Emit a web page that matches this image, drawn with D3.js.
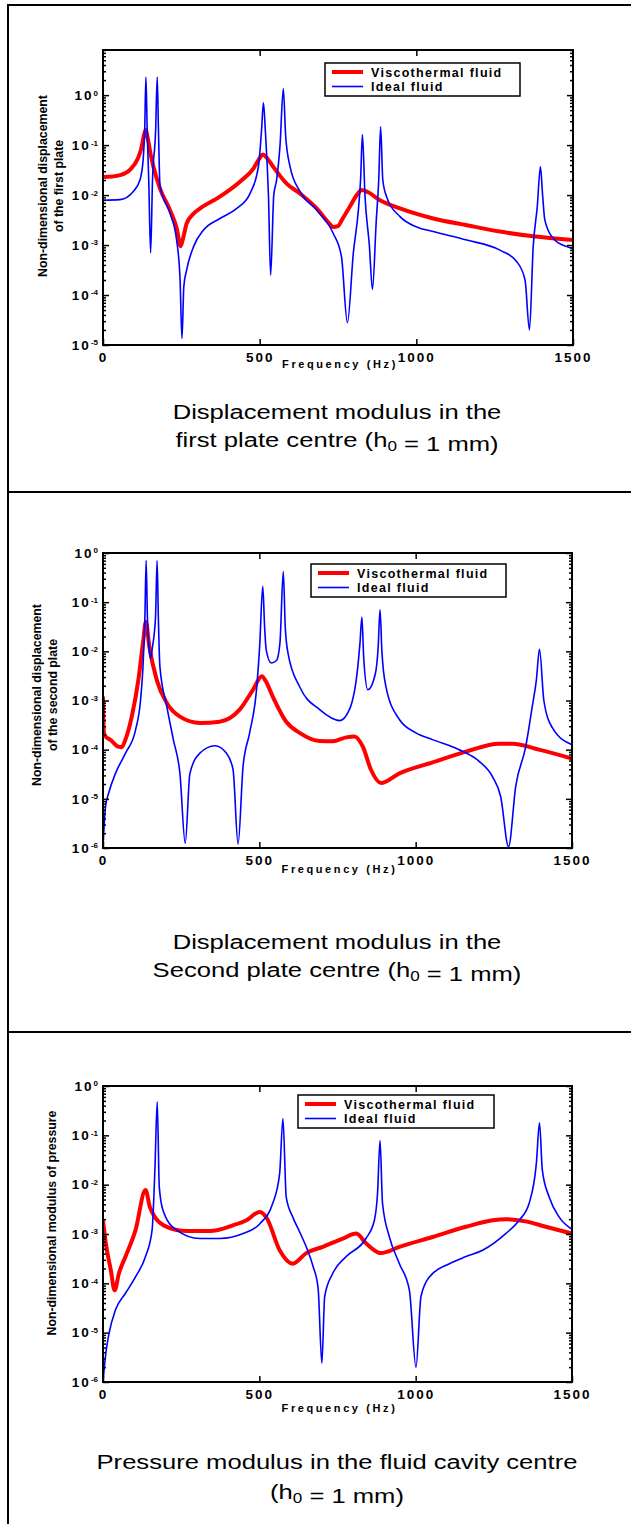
<!DOCTYPE html>
<html>
<head>
<meta charset="utf-8">
<script src="https://cdn.jsdelivr.net/npm/d3@7"></script>
<style>
  body { margin: 0; background: #fff; }
  svg { display: block; }
  svg text { font-family: "Liberation Sans", Arial, sans-serif; }
</style>
</head>
<body>
<div id="chart"></div>
<script>
// ---- data (frequency Hz, non-dimensional value) ----
const xTicks = [0, 500, 1000, 1500];
const legendLabels = ["Viscothermal fluid", "Ideal fluid"];

const p1Decades = [-5, -4, -3, -2, -1, 0];
const p2Decades = [-6, -5, -4, -3, -2, -1, 0];
const p3Decades = [-6, -5, -4, -3, -2, -1, 0];

const p1YTitle = ["Non-dimensional displacement", "of the first plate"];
const p2YTitle = ["Non-dimensional displacement", "of the second plate"];
const p3YTitle = ["Non-dimensional modulus of pressure"];

const p1Caption = ["Displacement modulus in the", "first plate centre (h_0 = 1 mm)"];
const p2Caption = ["Displacement modulus in the", "Second plate centre (h_0 = 1 mm)"];
const p3Caption = ["Pressure modulus in the fluid cavity centre", "(h_0 = 1 mm)"];

const p1Visco = [
  [0, 2.3e-2], [30, 2.35e-2], [54, 2.5e-2], [86, 3.2e-2], [110, 5.2e-2], [122, 8.5e-2],
  [130, 1.5e-1], [136, 2.0e-1], [144, 1.25e-1], [152, 6.5e-2], [161, 3.7e-2], [182, 1.35e-2],
  [214, 5e-3], [235, 2.2e-3], [248, 9.5e-4], [256, 1.4e-3], [267, 2.7e-3], [290, 4.3e-3],
  [310, 5.4e-3], [373, 9.3e-3], [437, 1.85e-2], [480, 3.4e-2], [500, 5.5e-2], [510, 6.5e-2],
  [520, 5.8e-2], [543, 3.7e-2], [586, 1.7e-2], [629, 1.07e-2], [682, 5.4e-3], [720, 2.8e-3],
  [735, 2.3e-3], [750, 2.4e-3], [765, 3.4e-3], [788, 5.9e-3], [810, 1.0e-2], [826, 1.26e-2],
  [845, 1.15e-2], [884, 7.9e-3], [948, 5.4e-3], [1054, 3.4e-3], [1161, 2.5e-3], [1267, 1.86e-3],
  [1373, 1.5e-3], [1500, 1.26e-3]
];
const p1Ideal = [
  [0, 7.9e-3], [54, 8.1e-3], [96, 1.17e-2], [118, 2e-2], [128, 5e-2], [133, 2e-1], [137, 2.3],
  [141, 2e-1], [146, 2e-2], [152, 7e-4], [158, 2e-2], [168, 2e-1], [173, 2.3], [177, 2e-1],
  [182, 1.5e-2], [214, 4.3e-3], [235, 1.26e-3], [246, 2e-4], [252, 1.35e-5], [258, 1.5e-4],
  [267, 3.2e-4], [289, 9.3e-4], [321, 2e-3], [373, 3.4e-3], [427, 5.4e-3], [469, 1.07e-2],
  [496, 3.7e-2], [506, 2e-1], [512, 0.7], [518, 2e-1], [528, 1e-2], [535, 2.5e-4], [545, 1e-2],
  [554, 2e-2], [565, 1e-1], [575.5, 1.36], [583, 1.5e-1], [597, 3.7e-2], [629, 1.17e-2],
  [682, 5e-3], [735, 1.7e-3], [761, 5.9e-4], [780, 2.8e-5], [799, 7e-4], [815, 5e-3],
  [822, 2e-2], [828, 1.63e-1], [836, 1e-2], [850, 1e-3], [860, 1.3e-4], [872, 3e-3], [880, 2e-2],
  [886, 2.33e-1], [893, 2e-2], [905, 9.3e-3], [948, 3.7e-3], [1001, 2.3e-3], [1054, 1.86e-3],
  [1161, 1.26e-3], [1267, 7.9e-4], [1320, 4.7e-4], [1347, 2e-4], [1361, 2e-5], [1373, 9.3e-4],
  [1386, 5.9e-3], [1396, 3.7e-2], [1403, 1e-2], [1410, 3.2e-3], [1437, 1.35e-3], [1480, 9.3e-4],
  [1500, 8.5e-4]
];

const p2Visco = [
  [0, 1.2e-3], [3, 2.2e-4], [10, 1.8e-4], [23, 1.6e-4], [49, 1.15e-4], [60, 1.12e-4], [70, 1.5e-4],
  [92, 4.7e-4], [113, 2.6e-3], [129, 1.7e-2], [137, 4e-2], [148, 1.26e-2], [172, 2.6e-3],
  [204, 8.9e-4], [246, 4.7e-4], [310, 3.5e-4], [373, 3.7e-4], [437, 6.5e-4], [480, 1.66e-3],
  [508, 3.1e-3], [520, 2.5e-3], [543, 1.2e-3], [586, 3.7e-4], [629, 2.2e-4], [693, 1.5e-4],
  [735, 1.48e-4], [778, 1.78e-4], [804, 1.86e-4], [831, 1.15e-4], [857, 3.9e-5], [889, 2.1e-5],
  [948, 3.3e-5], [1054, 5.5e-5], [1161, 9.1e-5], [1267, 1.32e-4], [1310, 1.32e-4], [1394, 1e-4],
  [1500, 6.6e-5]
];
const p2Ideal = [
  [0, 1e-6], [8, 6.9e-6], [18, 1.3e-5], [40, 3.3e-5], [72, 8.5e-5], [104, 2.5e-4], [120, 1e-3],
  [128, 5e-3], [134, 5e-2], [138, 0.7], [142, 5e-2], [147, 1.2e-2], [152, 7.2e-3], [158, 1.2e-2],
  [168, 5e-2], [173, 0.7], [177, 5e-2], [182, 4.9e-3], [204, 7.6e-4], [225, 1.6e-4], [246, 3.3e-5],
  [263, 1.25e-6], [278, 3.3e-5], [310, 8.5e-5], [358, 1.2e-4], [395, 8.5e-5], [416, 3.9e-5],
  [432, 1.2e-6], [448, 4.6e-5], [469, 2.2e-4], [491, 1.66e-3], [501, 1.26e-2], [511, 0.21],
  [517, 3e-2], [522, 1.07e-2], [538, 5.8e-3], [555, 6.5e-3], [566, 1.5e-2], [576.6, 0.42],
  [583, 3e-2], [592, 9e-3], [629, 1.9e-3], [693, 6.5e-4], [757, 3.9e-4], [788, 6.5e-4],
  [815, 4.9e-3], [822, 1.5e-2], [828, 5e-2], [834, 7e-3], [847, 1.66e-3], [871, 3.5e-3],
  [880, 1.2e-2], [886, 7e-2], [892, 1e-2], [905, 1.9e-3], [948, 4.1e-4], [1001, 2.2e-4],
  [1054, 1.6e-4], [1139, 1e-4], [1203, 5.8e-5], [1246, 2.8e-5], [1272, 1.1e-5], [1297, 1.07e-6],
  [1320, 1.8e-5], [1352, 1.15e-4], [1373, 7.6e-4], [1386, 2.6e-3], [1396, 1.1e-2], [1410, 1e-3],
  [1437, 2.8e-4], [1500, 1.26e-4]
];

const p3Visco = [
  [0, 1.9e-3], [9, 6.5e-4], [25, 1.86e-4], [37, 7.2e-5], [51, 1.6e-4], [72, 3.5e-4], [104, 1.2e-3],
  [136, 7.8e-3], [150, 3.5e-3], [166, 2.2e-3], [204, 1.4e-3], [267, 1.15e-3], [342, 1.15e-3],
  [416, 1.5e-3], [459, 1.9e-3], [501, 2.8e-3], [522, 2.2e-3], [565, 4.7e-4], [607, 2.5e-4],
  [650, 4.1e-4], [703, 5.5e-4], [767, 8.1e-4], [810, 1.02e-3], [841, 6.5e-4], [889, 4.1e-4],
  [948, 5.5e-4], [1054, 8.7e-4], [1161, 1.4e-3], [1246, 1.9e-3], [1288, 2e-3], [1352, 1.8e-3],
  [1416, 1.4e-3], [1500, 1.02e-3]
];
const p3Ideal = [
  [0, 1e-6], [9, 3.8e-6], [19, 9.5e-6], [40, 2.9e-5], [72, 6.3e-5], [104, 1.35e-4], [136, 3.5e-4],
  [157, 1.2e-3], [166, 2e-2], [173.4, 0.48], [180, 9e-3], [192, 3e-3], [235, 1.2e-3], [310, 8.1e-4],
  [373, 8.1e-4], [448, 1.02e-3], [501, 1.6e-3], [543, 4.2e-3], [565, 1.7e-2], [575.5, 0.22],
  [586, 5.6e-3], [607, 2.2e-3], [629, 1.1e-3], [650, 5.5e-4], [672, 2.2e-4], [688, 8e-5],
  [700, 2.4e-6], [709, 5.4e-5], [735, 1.6e-4], [778, 3.5e-4], [841, 8.1e-4], [868, 1.9e-3],
  [878, 6.6e-3], [886, 7.8e-2], [894, 4.2e-3], [916, 8.7e-4], [948, 2.5e-4], [980, 7.2e-5],
  [1001, 2e-6], [1017, 5.4e-5], [1044, 1.35e-4], [1108, 2.5e-4], [1161, 3.5e-4], [1214, 4.7e-4],
  [1288, 1.02e-3], [1331, 1.9e-3], [1363, 4.2e-3], [1386, 2.7e-2], [1396, 0.18], [1405, 2e-2],
  [1427, 5.6e-3], [1459, 2.2e-3], [1500, 1.25e-3]
];

const W = 631, H = 1524;

window.onload = () => {
  const svg = d3.select("#chart").append("svg").attr("width", W).attr("height", H);

  // table frame around the three figures
  const frame = svg.append("g").attr("stroke", "#000").attr("stroke-width", 2);
  frame.append("line").attr("x1", 8).attr("x2", 8).attr("y1", 5).attr("y2", H);
  [5, 492, 1032].forEach(yy => {
    frame.append("line").attr("x1", 7).attr("x2", W).attr("y1", yy).attr("y2", yy);
  });

  const panels = [
    { id: 1, visco: p1Visco, ideal: p1Ideal, decades: p1Decades, yMin: 1e-5, yMax: 8,
      left: 103, right: 573, top: 50, bottom: 345,
      yTitle: p1YTitle, titleX: [47, 63], titleY: 186,
      caption: p1Caption, capY: [419, 447], freqY: 368,
      legend: { x: 325, y: 63, w: 195, h: 33 } },
    { id: 2, visco: p2Visco, ideal: p2Ideal, decades: p2Decades, yMin: 1e-6, yMax: 1,
      left: 103, right: 572, top: 553, bottom: 848,
      yTitle: p2YTitle, titleX: [41, 57], titleY: 695,
      caption: p2Caption, capY: [949, 977], freqY: 873,
      legend: { x: 311, y: 564, w: 195, h: 33 } },
    { id: 3, visco: p3Visco, ideal: p3Ideal, decades: p3Decades, yMin: 1e-6, yMax: 1,
      left: 103, right: 572, top: 1086, bottom: 1382,
      yTitle: p3YTitle, titleX: [55.5], titleY: 1223,
      caption: p3Caption, capY: [1469, 1499], freqY: 1412,
      legend: { x: 298, y: 1095, w: 196, h: 33 } }
  ];

  panels.forEach(p => drawPanel(svg, p));
};

function drawPanel(svg, p) {
  const x = d3.scaleLinear().domain([0, 1500]).range([p.left, p.right]);
  const y = d3.scaleLog().domain([p.yMin, p.yMax]).range([p.bottom, p.top]);

  const clipId = "clip" + p.id;
  svg.append("clipPath").attr("id", clipId)
    .append("rect")
    .attr("x", p.left).attr("y", p.top)
    .attr("width", p.right - p.left).attr("height", p.bottom - p.top);

  const line = d3.line()
    .x(d => x(d[0]))
    .y(d => y(d[1]))
    .curve(d3.curveMonotoneX);

  const plot = svg.append("g").attr("clip-path", `url(#${clipId})`);
  plot.append("path").datum(p.visco)
    .attr("fill", "none").attr("stroke", "#ff0000").attr("stroke-width", 4)
    .attr("stroke-linejoin", "round").attr("d", line);
  plot.append("path").datum(p.ideal)
    .attr("fill", "none").attr("stroke", "#0000ff").attr("stroke-width", 1.6)
    .attr("stroke-linejoin", "round").attr("d", line);

  // ticks
  const major = p.decades.map(e => Math.pow(10, e));
  const minor = y.ticks().filter(v => !major.some(m => Math.abs(m - v) / m < 1e-6));

  const bottomAxis = svg.append("g")
    .attr("transform", `translate(0,${p.bottom})`)
    .call(d3.axisBottom(x).tickValues(xTicks).tickSize(-6).tickPadding(7).tickFormat(d3.format("d")));
  bottomAxis.selectAll(".tick text")
    .attr("font-size", 13.5).attr("font-weight", "bold").attr("letter-spacing", 2)
    .attr("fill", "#000");

  svg.append("g")
    .attr("transform", `translate(0,${p.top})`)
    .call(d3.axisTop(x).tickValues(xTicks.slice(1, 3)).tickSize(-6).tickFormat(""));

  const leftAxis = svg.append("g")
    .attr("transform", `translate(${p.left},0)`)
    .call(d3.axisLeft(y).tickValues(major).tickSize(-6).tickPadding(5));
  leftAxis.selectAll(".tick text").each(function(d) {
    const t = d3.select(this).text(null)
      .attr("font-size", 13.5).attr("font-weight", "bold").attr("fill", "#000");
    t.append("tspan").attr("letter-spacing", 2).text("10");
    t.append("tspan").attr("dy", "-0.55em").attr("font-size", 8).text(Math.round(Math.log10(d)));
  });
  svg.append("g")
    .attr("transform", `translate(${p.left},0)`)
    .call(d3.axisLeft(y).tickValues(minor).tickSize(-3).tickFormat(""));
  svg.append("g")
    .attr("transform", `translate(${p.right},0)`)
    .call(d3.axisRight(y).tickValues(major).tickSize(-6).tickFormat(""));
  svg.append("g")
    .attr("transform", `translate(${p.right},0)`)
    .call(d3.axisRight(y).tickValues(minor).tickSize(-3).tickFormat(""));

  svg.selectAll(".domain").remove();
  svg.selectAll(".tick line").attr("stroke", "#000").attr("stroke-width", 1.5);

  svg.append("rect")
    .attr("x", p.left).attr("y", p.top)
    .attr("width", p.right - p.left).attr("height", p.bottom - p.top)
    .attr("fill", "none").attr("stroke", "#000").attr("stroke-width", 2);

  // x title
  svg.append("text")
    .attr("x", (p.left + p.right) / 2 + 2).attr("y", p.freqY)
    .attr("text-anchor", "middle")
    .attr("font-size", 11).attr("font-weight", "bold").attr("letter-spacing", 2.6)
    .text("Frequency (Hz)");

  // y title
  p.yTitle.forEach((txt, i) => {
    svg.append("text")
      .attr("transform", `translate(${p.titleX[i]},${p.titleY}) rotate(-90)`)
      .attr("text-anchor", "middle")
      .attr("font-size", 12.3).attr("font-weight", "bold")
      .text(txt);
  });

  // legend
  const lg = svg.append("g").attr("transform", `translate(${p.legend.x},${p.legend.y})`);
  lg.append("rect").attr("width", p.legend.w).attr("height", p.legend.h)
    .attr("fill", "#fff").attr("stroke", "#000").attr("stroke-width", 1.5);
  const legendStyle = [
    { color: "#ff0000", width: 4 },
    { color: "#0000ff", width: 1.6 }
  ];
  legendLabels.forEach((lab, i) => {
    const yy = 9 + i * 14.5;
    lg.append("line").attr("x1", 7).attr("x2", 38).attr("y1", yy).attr("y2", yy)
      .attr("stroke", legendStyle[i].color).attr("stroke-width", legendStyle[i].width);
    lg.append("text").attr("x", 46).attr("y", yy + 4.5)
      .attr("font-size", 12.5).attr("font-weight", "bold").attr("letter-spacing", 1.3)
      .text(lab);
  });

  // caption under the chart
  p.caption.forEach((txt, i) => {
    const t = svg.append("text")
      .attr("transform", `translate(337,${p.capY[i]}) scale(1.22,1)`)
      .attr("text-anchor", "middle")
      .attr("font-size", 21);
    txt.split(/(_\d)/).forEach(part => {
      if (part.startsWith("_")) {
        t.append("tspan").attr("font-size", 14).attr("dy", 4).text(part.slice(1));
        t.append("tspan").attr("dy", -4).text("");
      } else {
        t.append("tspan").text(part);
      }
    });
  });
}
</script>
</body>
</html>
